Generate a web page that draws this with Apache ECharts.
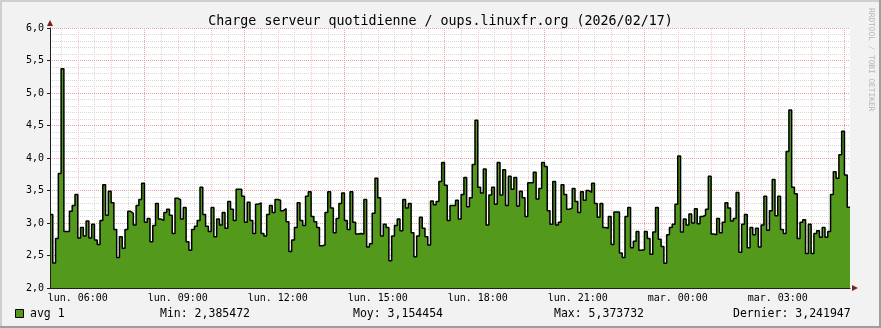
<!DOCTYPE html>
<html><head><meta charset="utf-8">
<script src="https://cdn.jsdelivr.net/npm/echarts@6/dist/echarts.min.js"></script>
<style>html,body{margin:0;padding:0;background:#f2f2f2}#c{width:881px;height:328px}</style>
</head><body><div id="c"></div>
<script>
const chartTitle = 'Charge serveur quotidienne / oups.linuxfr.org (2026/02/17)';
const seriesName = 'avg 1';
// 5-minute averages, starting lun. 05:10
const avgLoad = [
  3.13, 2.385, 2.76, 3.76, 5.374, 2.87, 2.87, 3.18, 3.27, 3.44, 2.77, 2.93, 2.80, 3.03, 2.77, 2.98, 2.74, 2.67, 3.04, 3.59, 3.12, 3.49, 3.31, 2.90, 2.47, 2.79, 2.61, 2.90, 3.18, 3.15, 2.97, 3.27, 3.36, 3.61, 3.01, 3.07, 2.71,
  2.96, 3.30, 3.06, 3.04, 3.16, 3.21, 3.12, 2.84, 3.38, 3.36, 3.06, 3.24, 2.71, 2.58, 2.90, 2.95, 3.04, 3.55, 3.13, 2.95, 2.87, 3.24, 2.79, 3.06, 2.97, 3.16, 2.92, 3.33, 3.21, 3.04, 3.52, 3.52, 3.41, 3.01, 3.32, 3.04,
  2.84, 3.29, 3.31, 2.84, 2.80, 3.13, 3.27, 3.16, 3.36, 3.35, 3.19, 3.22, 3.02, 2.56, 2.74, 2.93, 3.31, 3.04, 2.96, 3.41, 3.48, 3.10, 3.02, 2.93, 2.65, 2.66, 3.16, 3.48, 3.23, 2.85, 3.07, 3.30, 3.46, 3.04, 2.90, 3.48,
  3.01, 2.83, 2.84, 2.83, 3.36, 2.63, 2.68, 3.15, 3.69, 3.39, 2.80, 2.98, 2.93, 2.42, 2.80, 2.96, 3.06, 2.88, 3.36, 3.23, 3.30, 2.85, 2.48, 2.80, 3.09, 2.92, 2.79, 2.66, 3.34, 3.28, 3.33, 3.64, 3.93, 3.58, 3.04, 3.27,
  3.27, 3.35, 3.06, 3.44, 3.70, 3.25, 3.39, 3.90, 4.58, 3.55, 3.46, 3.83, 2.97, 3.43, 3.55, 3.29, 3.93, 3.43, 3.82, 3.27, 3.72, 3.52, 3.70, 3.26, 3.49, 3.39, 3.10, 3.62, 3.62, 3.78, 3.37, 3.53, 3.93, 3.87, 3.19, 2.98,
  3.64, 2.97, 3.01, 3.59, 3.44, 3.21, 3.23, 3.53, 3.33, 3.16, 3.48, 3.35, 3.50, 3.47, 3.61, 3.30, 3.09, 3.30, 2.93, 2.92, 3.10, 2.67, 3.17, 3.17, 2.54, 2.47, 3.10, 3.24, 2.62, 2.72, 2.87, 2.58, 2.59, 2.87, 2.76, 2.52,
  2.86, 3.24, 2.75, 2.64, 2.38, 2.82, 2.93, 2.98, 3.29, 4.03, 2.86, 3.06, 2.97, 3.14, 3.00, 3.22, 2.99, 3.10, 3.12, 3.21, 3.72, 2.83, 2.82, 3.07, 2.85, 3.01, 3.31, 3.23, 3.03, 3.07, 3.47, 2.55, 2.98, 3.13, 2.62, 2.93,
  2.82, 2.92, 2.63, 2.97, 3.41, 2.89, 3.19, 3.67, 3.11, 3.41, 2.90, 2.84, 4.10, 4.74, 3.55, 3.45, 2.76, 3.01, 3.05, 2.53, 2.98, 2.53, 2.84, 2.88, 2.78, 2.93, 2.78, 2.87, 3.44, 3.79, 3.69, 4.05, 4.41, 3.74, 3.242
];
const xTickLabels = ['lun. 06:00', 'lun. 09:00', 'lun. 12:00', 'lun. 15:00', 'lun. 18:00', 'lun. 21:00', 'mar. 00:00', 'mar. 03:00'];
const yTickLabels = ['2,0', '2,5', '3,0', '3,5', '4,0', '4,5', '5,0', '5,5', '6,0'];
const statLabels = ['Min: 2,385472', 'Moy: 3,154454', 'Max: 5,373732', 'Dernier: 3,241947'];
const sideText = 'RRDTOOL / TOBI OETIKER';

const FONT = 'DejaVu Sans Mono';
const GREEN = '#52991c';
const GRID_GREY = '#d8d8d8';
const GRID_PINK = '#f6c6c6';
const GRID_RED = '#ee9f9f';
const AXIS = '#1f1f1f';
const ARROW = '#801f1f';

const seriesData = avgLoad.map((v, i) => [i, v]).concat([[avgLoad.length, avgLoad[avgLoad.length - 1]]]);

const chart = echarts.init(document.getElementById('c'), null, {renderer: 'canvas'});
const noParts = {axisTick: {show: false}, axisLabel: {show: false}, splitLine: {show: false}};
const dotted = (color) => ({show: true, showMinLine: false, showMaxLine: false, lineStyle: {color: color, width: 1, type: [1, 1]}});
const gridAxisX = (interval, color, z) => ({gridIndex: 1, type: 'value', position: 'bottom', min: 0, max: 290, interval: interval, z: z,
  axisLine: {show: false}, axisTick: {show: false}, axisLabel: {show: false}, splitLine: dotted(color)});

chart.setOption({
  animation: false,
  backgroundColor: '#f2f2f2',
  title: {
    text: chartTitle, left: 'center', top: 10,
    textStyle: {fontFamily: FONT, fontSize: 13.3, fontWeight: 'normal', color: '#000'}
  },
  grid: [
    {left: 50, right: 31, top: 28, bottom: 40, show: true, backgroundColor: '#ffffff', borderWidth: 0},
    {left: 50 - 2 * 800 / 288, right: 31, top: 28, bottom: 40, show: false}
  ],
  xAxis: [
    Object.assign({gridIndex: 0, type: 'value', position: 'bottom', min: 0, max: 288, z: 3,
      axisLine: {show: true, onZero: false, lineStyle: {color: AXIS, width: 1}}}, noParts),
    {gridIndex: 1, type: 'value', position: 'bottom', min: 0, max: 290, interval: 6, z: 0,
      axisLine: {show: false}, axisTick: {show: false},
      axisLabel: {
        margin: 5, fontFamily: FONT, fontSize: 10, color: '#000',
        formatter: v => ((v - 12) % 36 === 0 && v >= 12) ? (xTickLabels[(v - 12) / 36] || '') : ''
      },
      splitLine: dotted(GRID_GREY)},
    gridAxisX(12, GRID_PINK, 1),
    gridAxisX(36, GRID_RED, 2),
    Object.assign({gridIndex: 0, type: 'value', position: 'bottom', min: 0, max: 288, z: 3,
      axisLine: {show: true, onZero: false, symbol: ['none', 'triangle'], symbolSize: [6, 6], symbolOffset: [0, 5],
        lineStyle: {color: ARROW, opacity: 0}}}, noParts)
  ],
  yAxis: [
    {gridIndex: 0, type: 'value', position: 'left', min: 2, max: 6, interval: 0.1, z: 0,
      axisLine: {show: false}, axisTick: {show: false}, axisLabel: {show: false},
      splitLine: dotted(GRID_GREY)},
    {gridIndex: 0, type: 'value', position: 'left', min: 2, max: 6, interval: 0.5, z: 1,
      axisLine: {show: false}, axisTick: {show: false}, axisLabel: {show: false},
      splitLine: {show: true, showMinLine: false, showMaxLine: true, lineStyle: {color: GRID_RED, width: 1, type: [1, 1]}}},
    {gridIndex: 0, type: 'value', position: 'left', min: 2, max: 6, interval: 0.5, z: 3,
      axisLine: {show: true, onZero: false, lineStyle: {color: AXIS, width: 1}},
      axisTick: {show: true, length: 3, lineStyle: {color: AXIS}},
      axisLabel: {margin: 6, fontFamily: FONT, fontSize: 10, color: '#000',
        formatter: v => yTickLabels[Math.round((v - 2) / 0.5)] || ''},
      splitLine: {show: false}},
    Object.assign({gridIndex: 0, type: 'value', position: 'left', min: 2, max: 6, z: 3,
      axisLine: {show: true, onZero: false, symbol: ['none', 'triangle'], symbolSize: [6, 6], symbolOffset: [0, 5],
        lineStyle: {color: ARROW, opacity: 0}}}, noParts),
    {gridIndex: 1, type: 'value', position: 'left', min: 2, max: 6, show: false}
  ],
  series: [{
    name: seriesName, type: 'line', xAxisIndex: 0, yAxisIndex: 0,
    data: seriesData, step: 'end', showSymbol: false, symbol: 'none',
    lineStyle: {color: '#000', width: 1.5},
    areaStyle: {color: GREEN, opacity: 1, origin: 'start'},
    z: 3
  }],
  graphic: [
    {type: 'rect', left: 0, top: 0, shape: {width: 881, height: 2}, style: {fill: '#cfcfcf'}, silent: true},
    {type: 'rect', left: 0, top: 0, shape: {width: 2, height: 328}, style: {fill: '#cfcfcf'}, silent: true},
    {type: 'rect', left: 0, top: 326, shape: {width: 881, height: 2}, style: {fill: '#9e9e9e'}, silent: true},
    {type: 'rect', left: 879, top: 0, shape: {width: 2, height: 328}, style: {fill: '#9e9e9e'}, silent: true},
    {type: 'rect', shape: {x: 15.5, y: 309.5, width: 8, height: 8}, style: {fill: GREEN, stroke: '#000', lineWidth: 1}, silent: true},
    {type: 'text', x: 30, y: 314, style: {text: seriesName, fontFamily: FONT, fontSize: 11.5, fill: '#000', verticalAlign: 'middle', textVerticalAlign: 'middle'}},
    {type: 'text', x: 160, y: 314, style: {text: statLabels[0], fontFamily: FONT, fontSize: 11.5, fill: '#000', verticalAlign: 'middle', textVerticalAlign: 'middle'}},
    {type: 'text', x: 353, y: 314, style: {text: statLabels[1], fontFamily: FONT, fontSize: 11.5, fill: '#000', verticalAlign: 'middle', textVerticalAlign: 'middle'}},
    {type: 'text', x: 554, y: 314, style: {text: statLabels[2], fontFamily: FONT, fontSize: 11.5, fill: '#000', verticalAlign: 'middle', textVerticalAlign: 'middle'}},
    {type: 'text', x: 733, y: 314, style: {text: statLabels[3], fontFamily: FONT, fontSize: 11.5, fill: '#000', verticalAlign: 'middle', textVerticalAlign: 'middle'}},
    {type: 'text', x: 871, y: 8, rotation: -Math.PI / 2, style: {text: sideText, fontFamily: FONT, fontSize: 7.8, fill: '#b4b4b4', align: 'left', textAlign: 'left', verticalAlign: 'middle', textVerticalAlign: 'middle'}}
  ]
});
</script>
</body></html>
